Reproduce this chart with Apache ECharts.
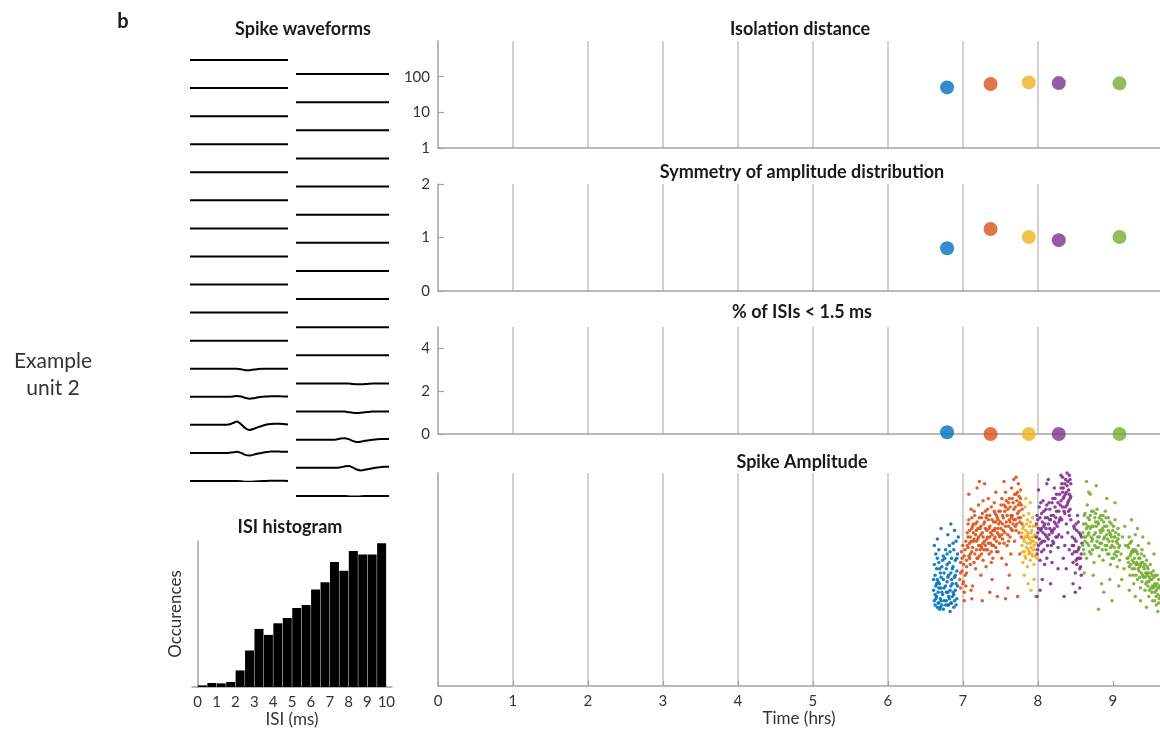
<!DOCTYPE html>
<html>
<head>
<meta charset="utf-8">
<script src="https://cdn.jsdelivr.net/npm/echarts@6/dist/echarts.min.js"></script>
<style>
  html, body { margin: 0; padding: 0; background: #fff; }
  #main { width: 1160px; height: 733px; }
</style>
</head>
<body>
<div id="main"></div>
<script>
// ---- data ----
const hourTicks = [0, 1, 2, 3, 4, 5, 6, 7, 8, 9];
const isiTicks = [0, 1, 2, 3, 4, 5, 6, 7, 8, 9, 10];

// one dot per sorting epoch (unit cluster)
const unitColors = ['#0072BD', '#D95319', '#EDB120', '#7E2F8E', '#77AC30'];
const unitTimes = [6.79, 7.37, 7.88, 8.28, 9.09];
const isolationDistance = [50, 62, 69, 66, 65];
const ampSymmetry = [0.80, 1.16, 1.01, 0.95, 1.01];
const pctShortIsi = [0.08, 0, 0, 0, 0];

// ISI histogram, 0.5 ms bins
const isiBinCenters = [0.25, 0.75, 1.25, 1.75, 2.25, 2.75, 3.25, 3.75, 4.25, 4.75,
  5.25, 5.75, 6.25, 6.75, 7.25, 7.75, 8.25, 8.75, 9.25, 9.75];
const isiCounts = [5, 12, 11, 15, 50, 110, 175, 157, 192, 208,
  238, 247, 294, 316, 377, 350, 410, 399, 399, 433];

// mean waveforms, 24 samples, deviation from baseline (uV); channels not listed are flat
const waveSamples = 24;
const channelsPerColumn = 16;
const channelSpacing = 100;
const leftWaves = {
  11: [0,0,0,0,0,0,0,0,0,0,0,0,-2,-5,-5,-3,-1,0,0,0,0,0,0,0],
  12: [0,0,0,0,0,0,0,0,0,0,1,3,1,-4,-7,-5,-2,0,1,2,2,2,1,1],
  13: [0,0,0,0,0,0,0,0,0,1,6,12,2,-12,-18,-14,-8,-3,1,3,4,4,3,1],
  14: [0,0,0,0,0,0,0,0,0,0,2,4,0,-7,-9,-6,-2,1,3,5,5,5,4,4],
  15: [0,0,0,0,0,0,0,0,0,0,0,0,-1,-3,-3,-2,-1,0,0,1,1,1,1,0]
};
const rightWaves = {
  11: [0,0,0,0,0,0,0,0,0,0,0,0,0,0,-2,-3,-3,-2,-1,0,0,0,0,0],
  12: [0,0,0,0,0,0,0,0,0,0,0,0,0,-2,-4,-5,-4,-2,-1,0,0,0,0,0],
  13: [0,0,0,0,0,0,0,0,0,0,1,4,5,2,-4,-8,-7,-4,-2,0,2,3,3,3],
  14: [0,0,0,0,0,0,0,0,0,0,0,2,5,7,2,-6,-9,-7,-4,-1,1,3,4,4],
  15: [0,0,0,0,0,0,0,0,0,0,0,0,0,-1,-2,-2,-1,0,0,0,0,0,0,0]
};

// spike amplitude over time, [hours, amplitude], one list per cluster
const ampBlue = [[6.61,45],[6.62,40],[6.63,52],[6.63,38],[6.64,47],[6.65,55],[6.65,42],[6.66,37],[6.66,50],[6.67,44],
  [6.68,58],[6.68,39],[6.69,48],[6.70,53],[6.70,41],[6.71,46],[6.72,38],[6.72,56],[6.73,43],[6.74,50],
  [6.74,61],[6.75,40],[6.64,62],[6.62,66],[6.68,64],[6.77,47],[6.78,55],[6.78,40],[6.79,62],[6.80,44],
  [6.80,51],[6.81,38],[6.82,58],[6.82,66],[6.83,45],[6.84,53],[6.84,39],[6.85,60],[6.86,48],[6.86,42],
  [6.87,56],[6.88,64],[6.88,37],[6.89,51],[6.90,45],[6.90,59],[6.91,68],[6.92,41],[6.92,54],[6.93,62],
  [6.80,71],[6.84,76],[6.89,73],[6.94,70],[6.71,74],[6.66,69],[6.76,60],[6.87,44],[6.79,49],[6.83,35],
  [6.63,43],[6.67,49],[6.71,40],[6.75,46],[6.81,42],[6.85,50],[6.89,40],[6.91,48],[6.69,36],[6.77,38],
  [6.61,50],[6.62,57],[6.64,41],[6.65,48],[6.66,60],[6.67,39],[6.68,46],[6.69,55],[6.70,37],[6.71,51],
  [6.72,44],[6.73,59],[6.74,36],[6.75,53],[6.77,64],[6.78,44],[6.79,57],[6.80,38],[6.81,52],[6.82,41],
  [6.83,63],[6.84,47],[6.85,39],[6.86,55],[6.87,67],[6.88,43],[6.90,52],[6.91,38],[6.92,60],[6.93,47]];
const ampOrange = [[6.96,50],[6.97,58],[6.97,46],[6.98,63],[6.99,54],[7.00,48],[7.00,66],[7.01,57],[7.02,44],[7.02,61],
  [7.03,52],[7.04,68],[7.04,47],[7.05,59],[7.06,72],[7.07,65],[7.08,78],[7.09,60],[7.10,70],[7.11,83],
  [7.12,63],[7.13,75],[7.14,68],[7.15,58],[7.16,80],[7.17,71],[7.18,64],[7.19,77],[7.20,69],[7.21,85],
  [7.22,61],[7.23,74],[7.24,66],[7.25,79],[7.26,72],[7.27,59],[7.28,76],[7.29,68],[7.30,82],[7.31,64],
  [7.32,73],[7.33,70],[7.34,78],[7.35,62],[7.36,75],[7.37,67],[7.38,84],[7.39,71],[7.40,60],[7.41,77],
  [7.42,69],[7.43,74],[7.44,65],[7.45,80],[7.46,72],[7.47,63],[7.48,76],[7.49,70],[7.08,90],[7.13,47],
  [7.19,93],[7.24,52],[7.29,95],[7.34,88],[7.39,50],[7.44,91],[7.17,55],[7.27,87],[7.11,45],[7.36,44],
  [7.22,96],[7.31,56],[7.42,86],[7.07,70],[7.10,62],[7.12,74],[7.15,69],[7.18,73],[7.21,66],[7.24,71],
  [7.27,67],[7.30,74],[7.33,64],[7.36,70],[7.39,66],[7.42,73],[7.45,68],[7.48,71],[7.50,82],[7.51,74],
  [7.52,88],[7.53,69],[7.54,79],[7.55,85],[7.56,72],[7.57,91],[7.58,77],[7.59,66],[7.60,83],[7.61,75],
  [7.62,88],[7.63,70],[7.64,80],[7.65,93],[7.66,73],[7.67,86],[7.68,78],[7.69,68],[7.70,84],[7.71,90],
  [7.72,76],[7.73,81],[7.74,95],[7.75,72],[7.76,86],[7.77,79],[7.78,70],[7.79,83],[7.52,60],[7.58,57],
  [7.64,62],[7.71,98],[7.55,96],[7.62,52],[7.68,97],[7.76,62],[7.60,46],[7.73,42],[7.02,40],[7.12,41],
  [7.26,40],[7.46,42],[7.57,41],[7.05,53],[7.09,67],[7.14,76],[7.20,60],[7.25,65],[7.32,80],[7.38,58],
  [7.43,81],[7.47,78],[7.53,76],[7.57,84],[7.61,68],[7.66,80],[7.70,75],[7.74,85],[7.77,88],[7.63,77],
  [6.97,53],[6.99,60],[7.01,49],[7.03,64],[7.05,56],[7.06,66],[7.07,76],[7.08,61],[7.09,73],[7.10,57],
  [7.11,68],[7.12,79],[7.13,65],[7.14,72],[7.15,82],[7.16,62],[7.17,76],[7.18,68],[7.19,60],[7.20,74],
  [7.21,70],[7.22,79],[7.23,64],[7.24,75],[7.25,62],[7.26,81],[7.27,70],[7.28,64],[7.29,77],[7.30,66],
  [7.31,79],[7.32,69],[7.33,83],[7.34,67],[7.35,74],[7.36,80],[7.37,72],[7.38,63],[7.39,78],[7.40,73],
  [7.41,66],[7.42,82],[7.43,70],[7.44,77],[7.45,63],[7.46,79],[7.47,74],[7.48,82],[7.49,67],[7.50,77],
  [7.51,85],[7.52,71],[7.53,80],[7.54,73],[7.55,67],[7.56,82],[7.57,75],[7.58,87],[7.59,80],[7.60,71],
  [7.61,86],[7.62,78],[7.63,84],[7.64,74],[7.65,79],[7.66,88],[7.67,76],[7.68,83],[7.69,90],[7.70,78],
  [7.71,73],[7.72,87],[7.73,91],[7.74,79],[7.75,89],[7.76,77],[7.77,92],[7.78,85],[7.79,76],[7.75,82]];
const ampYellow = [[7.79,66],[7.80,74],[7.80,58],[7.81,80],[7.82,63],[7.83,70],[7.83,84],[7.84,60],[7.85,76],[7.86,67],
  [7.86,56],[7.87,72],[7.88,81],[7.88,62],[7.89,69],[7.90,77],[7.90,59],[7.91,65],[7.92,73],[7.93,61],
  [7.93,79],[7.94,68],[7.95,57],[7.96,71],[7.97,64],[7.98,75],[7.99,60],[7.82,52],[7.87,48],[7.91,45],
  [7.95,50],[7.84,88],[7.90,86],[7.97,42],[7.81,69],[7.85,65],[7.89,63],[7.92,68],[7.94,64],[7.86,71],
  [7.79,72],[7.80,63],[7.81,75],[7.82,68],[7.83,61],[7.84,73],[7.85,70],[7.86,78],[7.87,64],[7.88,70],
  [7.89,75],[7.90,67],[7.91,72],[7.92,62],[7.93,70],[7.94,75],[7.95,66],[7.96,61],[7.97,70],[7.98,67]];
const ampPurple = [[7.98,70],[7.99,62],[8.00,78],[8.01,66],[8.02,84],[8.03,59],[8.04,73],[8.05,81],[8.06,68],[8.07,87],
  [8.08,64],[8.09,76],[8.10,71],[8.11,83],[8.12,60],[8.13,79],[8.14,69],[8.15,86],[8.16,74],[8.17,63],
  [8.18,80],[8.19,72],[8.20,88],[8.21,67],[8.22,77],[8.23,84],[8.24,70],[8.25,90],[8.26,75],[8.27,65],
  [8.28,82],[8.29,78],[8.01,92],[8.06,50],[8.12,95],[8.17,48],[8.22,93],[8.03,45],[8.27,55],[8.09,57],
  [8.19,58],[7.99,42],[8.14,97],[8.00,72],[8.04,67],[8.08,75],[8.12,70],[8.16,78],[8.20,73],[8.24,79],
  [8.28,71],[8.30,85],[8.31,93],[8.32,78],[8.33,98],[8.34,88],[8.35,82],[8.36,95],[8.37,90],[8.38,76],
  [8.39,100],[8.40,86],[8.41,92],[8.42,80],[8.43,97],[8.44,89],[8.32,70],[8.36,66],[8.40,72],[8.34,60],
  [8.38,55],[8.42,64],[8.35,42],[8.31,99],[8.37,84],[8.41,87],[8.33,91],[8.39,94],[8.43,83],[8.46,70],
  [8.47,58],[8.48,75],[8.49,63],[8.50,53],[8.51,68],[8.52,73],[8.53,60],[8.54,77],[8.55,65],[8.56,55],
  [8.57,71],[8.58,62],[8.59,67],[8.47,48],[8.50,44],[8.53,80],[8.56,46],[8.49,69],[8.52,57],[8.55,72],
  [8.58,52],[8.46,62],[8.48,66],[8.51,59],[8.54,64],[8.57,60],[8.44,95],[8.42,99],[8.05,74],[8.18,66],
  [7.98,76],[7.99,80],[8.00,64],[8.01,74],[8.02,69],[8.03,79],[8.04,86],[8.05,63],[8.06,77],[8.07,72],
  [8.08,82],[8.09,68],[8.10,79],[8.11,74],[8.12,85],[8.13,66],[8.14,76],[8.15,71],[8.16,83],[8.17,78],
  [8.18,73],[8.19,86],[8.20,68],[8.21,80],[8.22,74],[8.23,88],[8.24,76],[8.25,82],[8.26,70],[8.27,86],
  [8.28,77],[8.29,90],[8.30,79],[8.31,87],[8.32,95],[8.33,84],[8.34,93],[8.35,89],[8.36,81],[8.37,97],
  [8.38,91],[8.39,85],[8.40,96],[8.41,82],[8.42,90],[8.43,88],[8.44,78],[8.46,66],[8.49,74],[8.52,63],
  [8.55,60],[8.58,70],[8.51,76],[8.57,56]];
const ampGreen = [[8.60,72],[8.61,64],[8.62,80],[8.63,68],[8.64,76],[8.65,60],[8.66,85],[8.67,71],[8.68,66],[8.69,78],
  [8.70,74],[8.71,62],[8.72,82],[8.73,69],[8.74,75],[8.75,58],[8.76,79],[8.77,72],[8.78,65],[8.79,83],
  [8.80,70],[8.81,76],[8.82,61],[8.83,73],[8.84,80],[8.85,67],[8.86,74],[8.87,59],[8.88,77],[8.89,70],
  [8.90,82],[8.91,64],[8.92,75],[8.93,69],[8.94,79],[8.95,62],[8.96,72],[8.97,57],[8.98,76],[8.99,66],
  [9.00,73],[9.01,60],[9.02,70],[9.03,78],[9.04,63],[9.05,68],[9.06,56],[9.07,74],[9.08,65],[9.09,59],
  [8.65,96],[8.70,90],[8.78,94],[8.85,48],[8.92,88],[8.96,50],[9.03,86],[8.74,52],[8.62,53],[8.88,44],
  [9.08,47],[8.81,36],[8.99,40],[8.68,91],[8.62,70],[8.67,75],[8.72,68],[8.77,77],[8.82,70],[8.87,73],
  [8.92,66],[8.97,71],[9.02,65],[9.07,69],[9.11,62],[9.13,70],[9.15,55],[9.17,66],[9.19,60],[9.12,50],
  [9.16,75],[9.20,66],[9.21,58],[9.22,70],[9.23,52],[9.24,62],[9.25,68],[9.26,55],[9.27,64],[9.28,48],
  [9.29,60],[9.30,71],[9.31,57],[9.32,63],[9.33,50],[9.34,66],[9.35,54],[9.36,60],[9.37,46],[9.38,58],
  [9.39,64],[9.40,52],[9.41,56],[9.42,61],[9.43,45],[9.44,53],[9.45,59],[9.46,49],[9.47,55],[9.48,42],
  [9.49,51],[9.50,57],[9.51,46],[9.52,50],[9.53,40],[9.54,54],[9.55,47],[9.56,44],[9.57,52],[9.58,38],
  [9.59,48],[9.60,43],[9.61,50],[9.62,41],[9.63,46],[9.25,78],[9.33,74],[9.40,70],[9.48,67],[9.55,62],
  [9.30,42],[9.45,37],[9.60,35],[9.22,45],[9.37,40],[9.23,61],[9.28,58],[9.33,57],[9.38,53],[9.43,51],
  [9.48,49],[9.53,47],[9.58,45],[9.26,63],[9.36,56],[9.46,52],[9.56,48],
  [8.60,66],[8.61,76],[8.62,62],[8.63,81],[8.64,70],[8.65,74],[8.66,67],[8.67,79],[8.68,72],[8.69,63],
  [8.70,80],[8.71,70],[8.72,75],[8.73,64],[8.74,82],[8.75,71],[8.76,66],[8.77,81],[8.78,75],[8.79,68],
  [8.80,77],[8.81,65],[8.82,79],[8.83,67],[8.84,72],[8.85,78],[8.86,64],[8.87,80],[8.88,69],[8.89,75],
  [8.90,66],[8.91,79],[8.92,71],[8.93,62],[8.94,73],[8.95,68],[8.96,77],[8.97,65],[8.98,70],[8.99,60],
  [9.00,68],[9.01,75],[9.02,62],[9.03,70],[9.04,72],[9.05,61],[9.06,67],[9.07,63],[9.08,71],[9.09,66],
  [9.20,60],[9.21,65],[9.22,56],[9.23,67],[9.24,57],[9.25,63],[9.26,59],[9.27,52],[9.28,63],[9.29,55],
  [9.30,64],[9.31,52],[9.32,58],[9.33,62],[9.34,55],[9.35,60],[9.36,51],[9.37,57],[9.38,62],[9.39,49],
  [9.40,58],[9.41,51],[9.42,55],[9.43,57],[9.44,48],[9.45,53],[9.46,56],[9.47,47],[9.48,53],[9.49,45],
  [9.50,50],[9.51,53],[9.52,44],[9.53,52],[9.54,46],[9.55,51],[9.56,40],[9.57,47],[9.58,42],[9.59,52],
  [9.60,46],[9.61,39],[9.62,47],[9.63,42]];
const ampClusters = [ampBlue, ampOrange, ampYellow, ampPurple, ampGreen];

// ---- styling ----
const FONT = 'Lato, "Open Sans", sans-serif';
const TXT = '#333';
const AXIS = '#a3a3a3';
const VLINE = '#c2c2c2';
const CLEAR = 'rgba(0,0,0,0)';

const chart = echarts.init(document.getElementById('main'), null, { renderer: 'canvas' });

function titleAt(text, x, y) {
  return {
    text: text, left: x, top: y, padding: 0,
    textAlign: 'center', textVerticalAlign: 'middle',
    textStyle: { fontFamily: FONT, fontSize: 18, fontWeight: 'bold', color: '#1a1a1a' }
  };
}

// vertical lines at 1..8 h only (none at 9 or at the clipped edge)
const splitColors = [VLINE, VLINE, VLINE, VLINE, VLINE, VLINE, VLINE, VLINE, CLEAR, CLEAR];

function timeAxis(gridIndex, withLabels) {
  return {
    type: 'value', gridIndex: gridIndex, min: 0, max: 9.63, interval: 1,
    axisLine: { show: true, lineStyle: { color: AXIS, width: 1.5 } },
    axisTick: withLabels
      ? { show: true, inside: true, length: 5, customValues: hourTicks, lineStyle: { color: AXIS, width: 1.2 } }
      : { show: false },
    axisLabel: withLabels
      ? { customValues: hourTicks, color: TXT, fontSize: 15, fontFamily: FONT, margin: 8 }
      : { show: false },
    splitLine: { show: true, showMinLine: false, lineStyle: { color: splitColors, width: 1.5 } },
    name: withLabels ? 'Time (hrs)' : '',
    nameLocation: 'middle', nameGap: 24,
    nameTextStyle: { color: TXT, fontSize: 17, fontFamily: FONT }
  };
}

function metricYAxis(gridIndex, extra) {
  return Object.assign({
    gridIndex: gridIndex,
    axisLine: { show: true, lineStyle: { color: AXIS, width: 1.5 } },
    axisTick: { show: true, inside: true, length: 6, lineStyle: { color: AXIS, width: 1.2 } },
    axisLabel: { color: TXT, fontSize: 15, fontFamily: FONT, margin: 8 },
    splitLine: { show: false }
  }, extra);
}

function unitDots(gridIndex, values) {
  return {
    type: 'scatter', xAxisIndex: gridIndex, yAxisIndex: gridIndex,
    symbolSize: 14, clip: false,
    data: unitTimes.map((t, i) => ({ value: [t, values[i]], itemStyle: { color: unitColors[i] } }))
  };
}

// waveform traces: channel offset + deviation
function waveSeries(axisIndex, waves) {
  const out = [];
  for (let ch = 0; ch < channelsPerColumn; ch++) {
    const dev = waves[ch];
    const base = (channelsPerColumn - 1 - ch) * channelSpacing;
    const pts = [];
    for (let k = 0; k < waveSamples; k++) pts.push([k, base + (dev ? dev[k] : 0)]);
    out.push({
      type: 'line', xAxisIndex: axisIndex, yAxisIndex: axisIndex,
      showSymbol: false, silent: true, smooth: 0.3,
      lineStyle: { color: '#000', width: 2 },
      data: pts
    });
  }
  return out;
}

const hiddenAxis = (gridIndex, min, max) => ({
  type: 'value', gridIndex: gridIndex, min: min, max: max, show: false
});

const axisLabelStyle = { color: TXT, fontSize: 15, fontFamily: FONT, margin: 8 };

const option = {
  animation: false,
  backgroundColor: '#fff',
  title: [
    titleAt('Spike waveforms', 303, 29),
    titleAt('ISI histogram', 290, 527),
    titleAt('Isolation distance', 800, 29),
    titleAt('Symmetry of amplitude distribution', 802, 172),
    titleAt('% of ISIs < 1.5 ms', 802, 312),
    titleAt('Spike Amplitude', 802, 462)
  ],
  graphic: [
    { type: 'text', x: 123, y: 22,
      style: { text: 'b', font: 'bold 20px ' + FONT, fill: '#1a1a1a',
        textAlign: 'center', textVerticalAlign: 'middle' } },
    { type: 'text', x: 53, y: 375,
      style: { text: 'Example\nunit 2', font: '21px ' + FONT, fill: TXT, lineHeight: 27,
        textAlign: 'center', textVerticalAlign: 'middle' } }
  ],
  grid: [
    { left: 190, top: 60, width: 98, height: 421 },   // waveforms left column
    { left: 296, top: 74, width: 93, height: 422 },   // waveforms right column
    { left: 192, top: 541, width: 200, height: 146 }, // ISI histogram
    { left: 438, top: 41, right: 0, height: 107 },    // isolation distance
    { left: 438, top: 184, right: 0, height: 107 },   // symmetry
    { left: 438, top: 327, right: 0, height: 107 },   // % short ISIs
    { left: 438, top: 473, right: 0, height: 213 }    // spike amplitude
  ],
  xAxis: [
    hiddenAxis(0, 0, waveSamples - 1),
    hiddenAxis(1, 0, waveSamples - 1),
    {
      type: 'value', gridIndex: 2, min: -0.3, max: 10.3,
      axisLine: { show: true, lineStyle: { color: AXIS, width: 1.5 } },
      axisTick: { show: false },
      axisLabel: Object.assign({ customValues: isiTicks }, axisLabelStyle),
      splitLine: { show: false },
      name: 'ISI (ms)', nameLocation: 'middle', nameGap: 24,
      nameTextStyle: { color: TXT, fontSize: 17, fontFamily: FONT }
    },
    timeAxis(3, false),
    timeAxis(4, false),
    timeAxis(5, false),
    timeAxis(6, true)
  ],
  yAxis: [
    hiddenAxis(0, 0, (channelsPerColumn - 1) * channelSpacing),
    hiddenAxis(1, 0, (channelsPerColumn - 1) * channelSpacing),
    {
      type: 'value', gridIndex: 2, min: 0, max: 440,
      axisLine: { show: true, lineStyle: { color: AXIS, width: 1.5 } },
      axisTick: { show: false }, axisLabel: { show: false }, splitLine: { show: false },
      name: 'Occurences', nameLocation: 'middle', nameGap: 8,
      nameTextStyle: { color: TXT, fontSize: 17, fontFamily: FONT }
    },
    metricYAxis(3, {
      type: 'log', logBase: 10, min: 1, max: 1000,
      axisLabel: Object.assign({ customValues: [1, 10, 100] }, axisLabelStyle),
      axisTick: { show: true, inside: true, length: 6, customValues: [1, 10, 100], lineStyle: { color: AXIS, width: 1.2 } }
    }),
    metricYAxis(4, { type: 'value', min: 0, max: 2, interval: 1 }),
    metricYAxis(5, {
      type: 'value', min: 0, max: 5, interval: 2,
      axisLabel: Object.assign({ customValues: [0, 2, 4] }, axisLabelStyle),
      axisTick: { show: true, inside: true, length: 6, customValues: [0, 2, 4], lineStyle: { color: AXIS, width: 1.2 } }
    }),
    {
      type: 'value', gridIndex: 6, min: 0, max: 100,
      axisLine: { show: true, lineStyle: { color: AXIS, width: 1.5 } },
      axisTick: { show: false }, axisLabel: { show: false }, splitLine: { show: false }
    }
  ],
  series: [].concat(
    waveSeries(0, leftWaves),
    waveSeries(1, rightWaves),
    [{
      type: 'bar', xAxisIndex: 2, yAxisIndex: 2, barWidth: 9,
      itemStyle: { color: '#000' },
      data: isiBinCenters.map((c, i) => [c, isiCounts[i]])
    }],
    [unitDots(3, isolationDistance), unitDots(4, ampSymmetry), unitDots(5, pctShortIsi)],
    ampClusters.map((pts, i) => ({
      type: 'scatter', xAxisIndex: 6, yAxisIndex: 6,
      symbolSize: 3.5, itemStyle: { color: unitColors[i], opacity: 0.9 },
      data: pts
    }))
  )
};

chart.setOption(option);
</script>
</body>
</html>
